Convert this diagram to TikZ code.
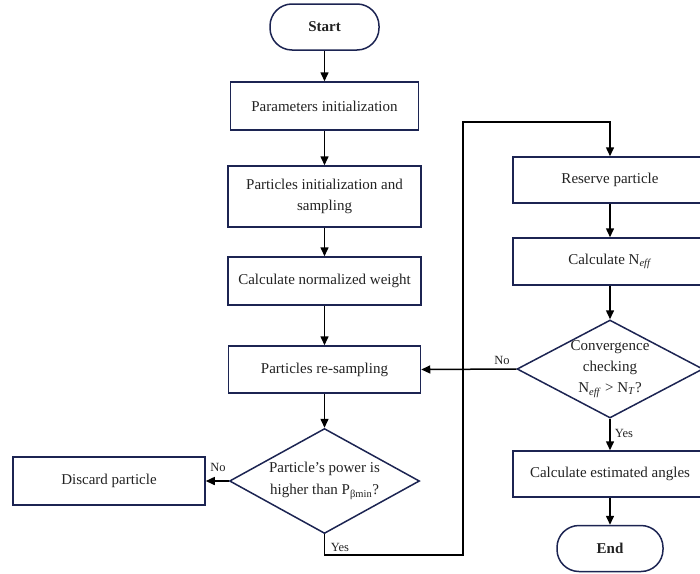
\documentclass[tikz,border=0pt]{standalone}
\usepackage{fontspec}
\setmainfont{Liberation Serif}
\usetikzlibrary{arrows.meta,shapes.geometric}
\definecolor{boxline}{HTML}{1C2452}
\definecolor{txt}{HTML}{222222}
\tikzset{
  procbox/.style={draw=boxline, line width=1.5pt, rectangle, inner sep=0pt, align=center, text=txt, font=\fontsize{15}{21}\selectfont},
  termbox/.style={draw=boxline, line width=1.5pt, rectangle, rounded corners=22pt, inner sep=0pt, text=txt, font=\fontsize{15}{21}\selectfont\bfseries},
  decbox/.style={draw=boxline, line width=1.5pt, diamond, inner sep=0pt},
  dectext/.style={align=center, text=txt, inner sep=0pt},
  flow/.style={line width=1.5pt, black, -{Triangle[length=9pt,width=8pt]}},
  lbl/.style={font=\fontsize{12.5}{14}\selectfont, text=txt, inner sep=0pt}
}
\begin{document}
\begin{tikzpicture}[x=1pt,y=-1pt]
\useasboundingbox (0,0) rectangle (700,573);
\clip (0,0) rectangle (700,573);
\node[termbox, minimum width=109pt, minimum height=46pt] (start) at (324.5,27) {Start};
\node[procbox, minimum width=188pt, minimum height=48pt] (p1) at (324.5,106) {Parameters initialization};
\node[procbox, minimum width=193pt, minimum height=61pt] (p2) at (324.5,196.5) {Particles initialization and\\sampling};
\node[procbox, minimum width=193pt, minimum height=48pt] (p3) at (324.5,281) {Calculate normalized weight};
\node[procbox, minimum width=192pt, minimum height=47pt] (p4) at (324.5,369.5) {Particles re-sampling};
\node[decbox, minimum width=190pt, minimum height=105pt] (d1) at (324.5,481) {};
\node[dectext, font=\fontsize{15}{22}\selectfont] (d1t) at (324.5,481) {Particle{\char"0027}s power is\\higher than P\textsubscript{βmin}?};
\node[procbox, minimum width=192pt, minimum height=48pt] (disc) at (109,481) {Discard particle};
\node[procbox, minimum width=194pt, minimum height=46pt] (res) at (610,180) {Reserve particle};
\node[procbox, minimum width=194pt, minimum height=47pt] (neff) at (610,261.5) {Calculate N\textsubscript{\textit{eff}}};
\node[decbox, minimum width=186pt, minimum height=98pt] (d2) at (610,369) {};
\node[dectext, font=\fontsize{15}{21}\selectfont] (d2t) at (610,369) {Convergence\\checking\\N\textsubscript{\textit{eff}} > N\textsubscript{\textit{T}}?};
\node[procbox, minimum width=194pt, minimum height=46pt] (ang) at (610,474) {Calculate estimated angles};
\node[termbox, minimum width=106pt, minimum height=46pt] (end) at (610,548.5) {End};
\coordinate (y1) at (324.5,555);
\coordinate (y2) at (463,555);
\coordinate (y3) at (463,122);
\coordinate (y4) at (610,122);
\draw[flow] (start) -- (p1);
\draw[flow] (p1) -- (p2);
\draw[flow] (p2) -- (p3);
\draw[flow] (p3) -- (p4);
\draw[flow] (p4) -- (d1);
\draw[flow] (d1.west) -- (disc.east);
\node[lbl] (no1) at (218,467) {No};
\draw[flow] (d1.south) -- (y1) -- (y2) -- (y3) -- (y4) -- (res.north);
\node[lbl] (yes1) at (340,547) {Yes};
\draw[flow] (res) -- (neff);
\draw[flow] (neff) -- (d2);
\draw[flow] (d2.south) -- (ang.north);
\node[lbl] (yes2) at (624,433) {Yes};
\draw[flow] (d2.west) -- (p4.east);
\node[lbl] (no2) at (502,360) {No};
\draw[flow] (ang) -- (end);
\end{tikzpicture}
\end{document}
